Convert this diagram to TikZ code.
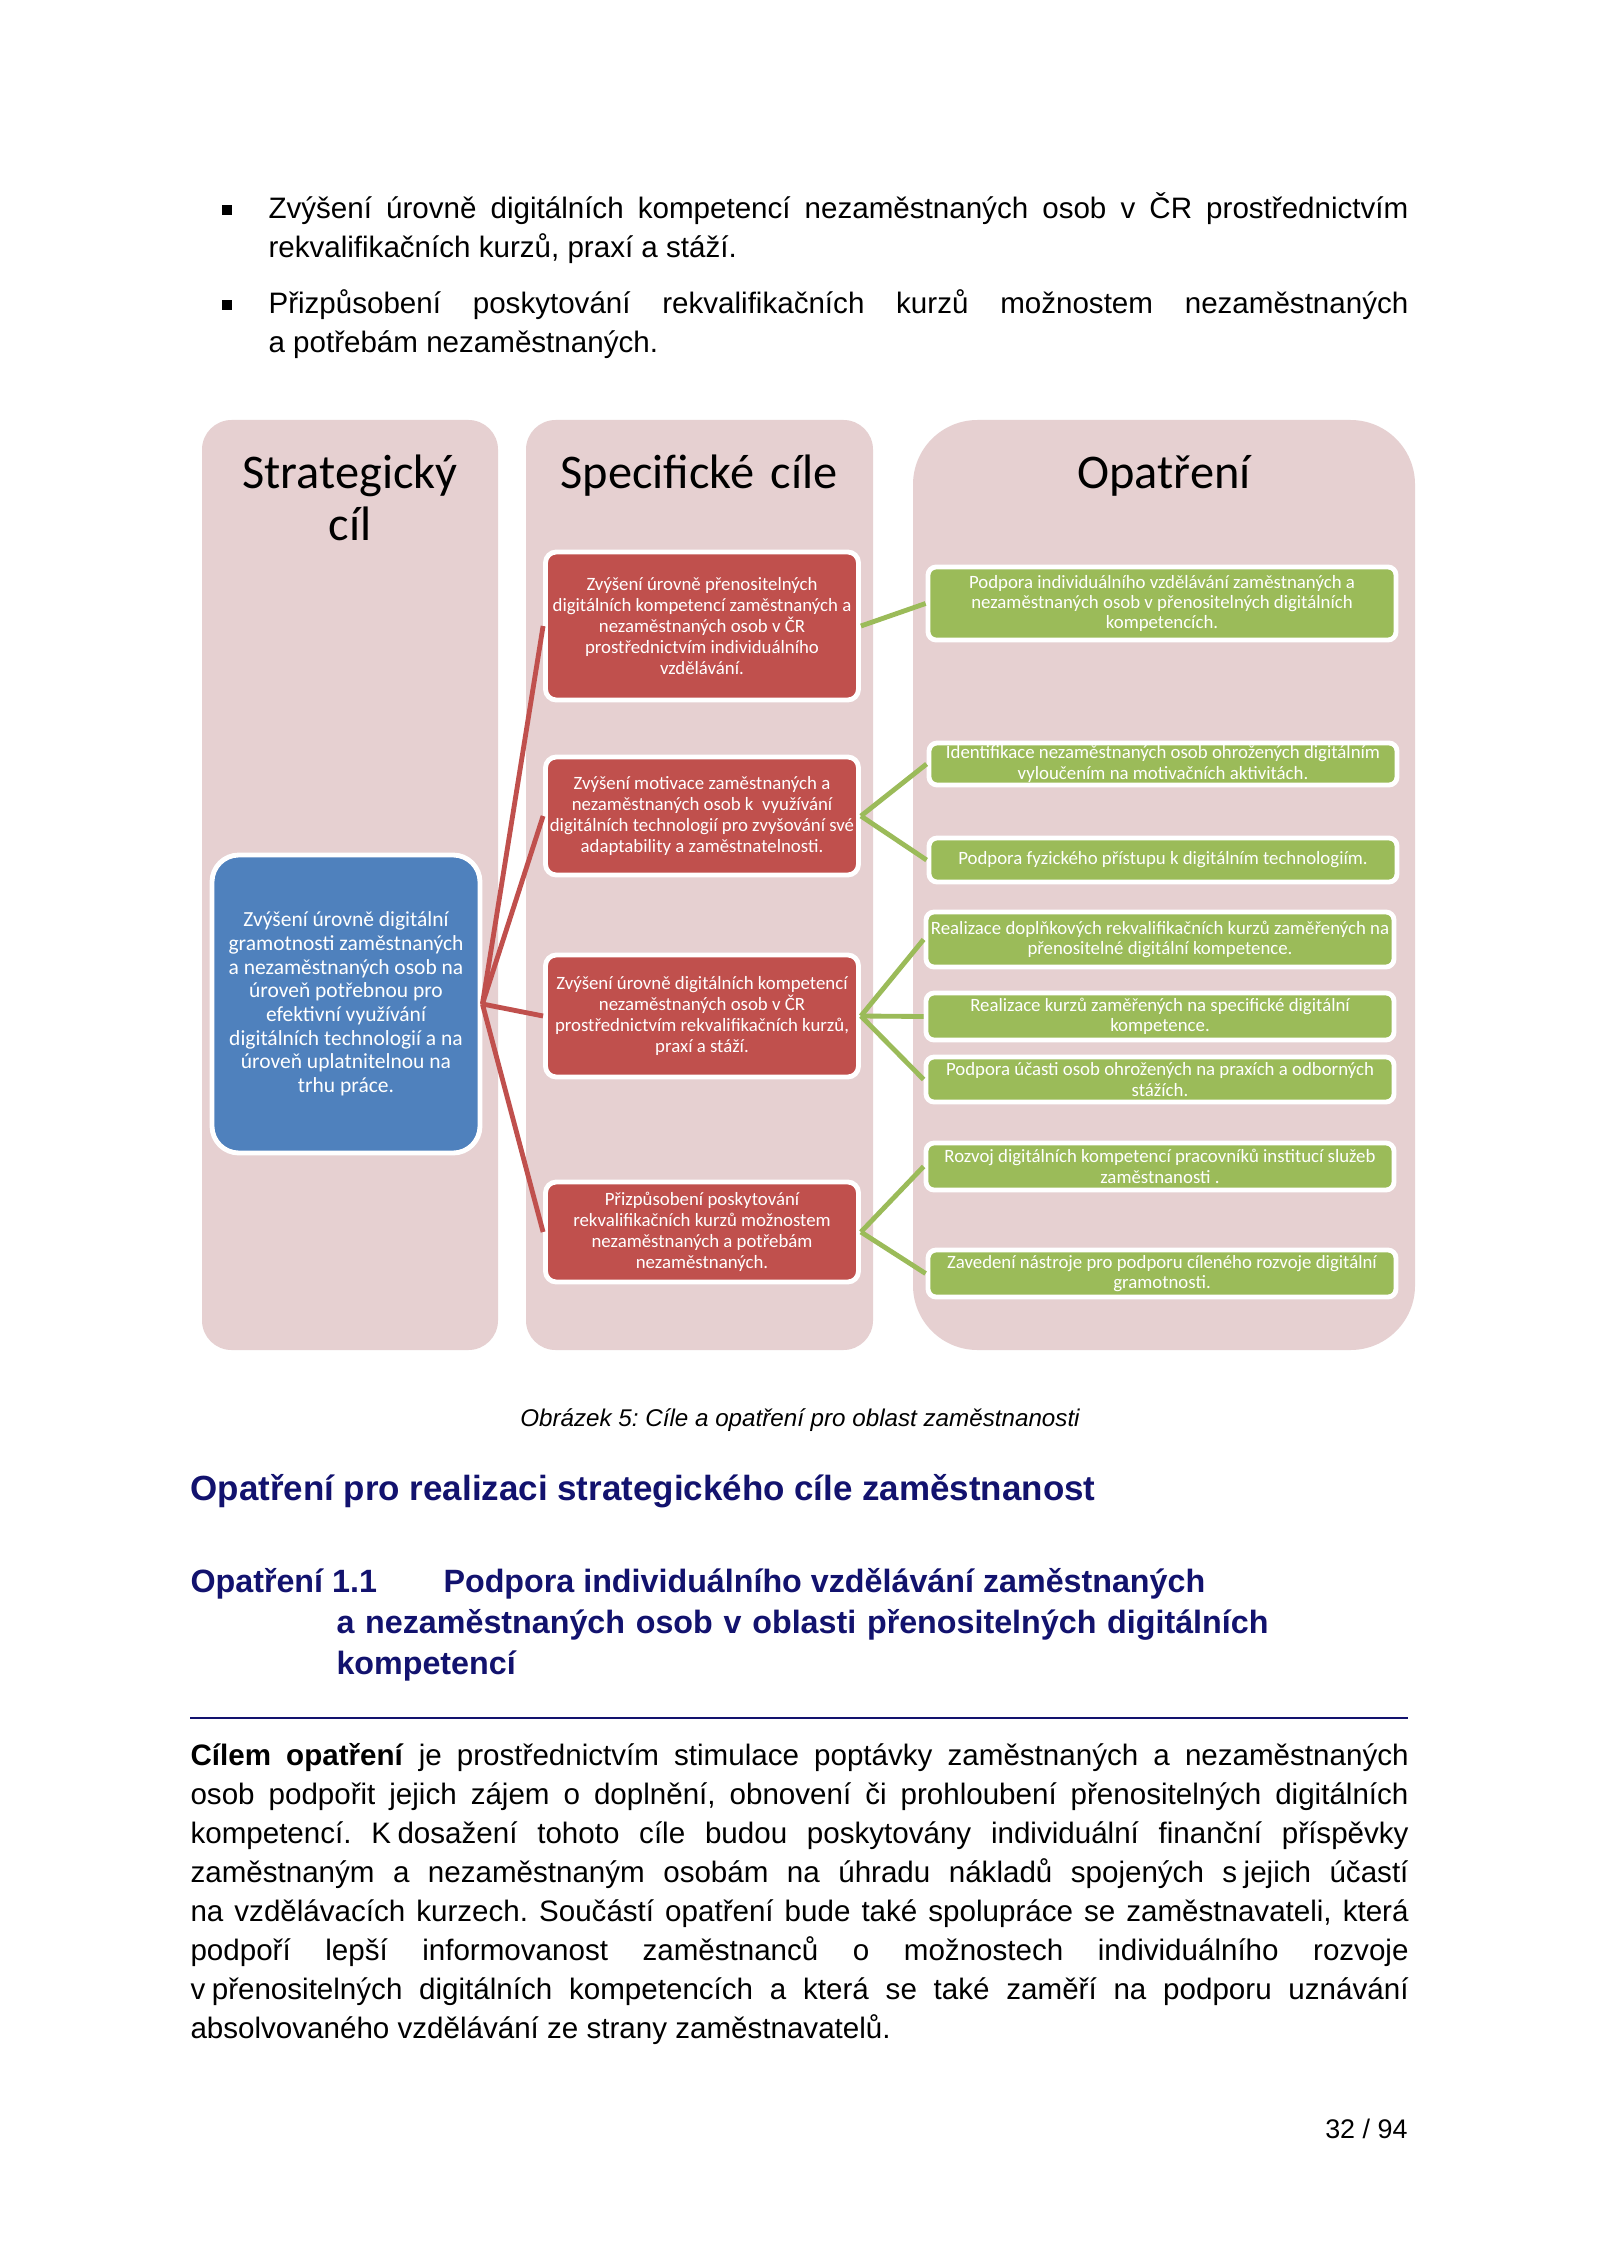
\documentclass[tikz,border=0pt]{standalone}
\usepackage{fontspec}
\setmainfont{Liberation Sans}
\newfontfamily\calib{Carlito}
\usetikzlibrary{positioning}
\frenchspacing

\definecolor{colpink}{RGB}{230,208,209}
\definecolor{stratblue}{RGB}{79,129,189}
\definecolor{goalred}{RGB}{192,80,77}
\definecolor{actgreen}{RGB}{155,187,89}
\definecolor{headnavy}{RGB}{18,18,110}
\newcommand\pxu{0.37205pt}

\begin{document}
\begin{tikzpicture}[
  x=0.37205pt, y=-0.37205pt,
  every node/.style={inner sep=0pt},
  bodytext/.style={anchor=base west, text width=#1, align=justify,
    font=\fontsize{11}{14.51}\selectfont},
  headtext/.style={anchor=base west, text=headnavy,
    font=\bfseries\fontsize{12}{15.6}\selectfont},
  colbg/.style={fill=colpink, rounded corners=11pt},
  coltitle/.style={anchor=base, text width=120pt, align=center,
    font=\calib\fontsize{18}{19.3}\selectfont},
  stratbox/.style={fill=stratblue, draw=white, line width=1.8pt,
    rounded corners=10pt, text=white, align=center,
    minimum width=268*\pxu, font=\calib\fontsize{8}{8.8}\selectfont},
  goalbox/.style={fill=goalred, draw=white, line width=1.8pt,
    rounded corners=4pt, text=white, align=center,
    minimum width=313*\pxu, font=\calib\fontsize{7}{7.8}\selectfont},
  actbox/.style={fill=actgreen, draw=white, line width=1.8pt,
    rounded corners=3pt, text=white, align=center,
    minimum width=468*\pxu, font=\calib\fontsize{7}{7.6}\selectfont},
  goalline/.style={draw=goalred, line width=1.8pt},
  actline/.style={draw=actgreen, line width=1.8pt}
]
\useasboundingbox (0,0) rectangle (1600,2262);
\fill[white] (0,0) rectangle (1600,2262);

% odrážky nad obrázkem
\fill (222,205) rectangle (232,215);
\node[bodytext=424.1pt] (bul1) at (268,219)
  {Zvýšení úrovně digitálních kompetencí nezaměstnaných osob v ČR prostřednictvím\linebreak
   rekvalifikačních kurzů, praxí a stáží.};
\fill (222,300) rectangle (232,310);
\node[bodytext=424.1pt] (bul2) at (268,314)
  {Přizpůsobení poskytování rekvalifikačních kurzů možnostem nezaměstnaných\linebreak
   a potřebám nezaměstnaných.};

% sloupce
\fill[colbg] (202,420) rectangle (498,1350);
\fill[colbg] (526,420) rectangle (873,1350);
\fill[colbg, rounded corners=24pt] (913,420) rectangle (1415,1350);

\node[coltitle] (tstrat) at (350,489) {Strategický\\cíl};
\node[coltitle] (tgoal) at (699,489) {Specifické cíle};
\node[coltitle] (tact) at (1164,489) {Opatření};

% strategický cíl
\node[stratbox, minimum height=298*\pxu] (strat) at (346,1004)
  {Zvýšení úrovně digitální\\gramotnosti zaměstnaných\\a nezaměstnaných osob na\\úroveň potřebnou pro\\efektivní využívání\\digitálních technologií a na\\úroveň uplatnitelnou na\\trhu práce.};

% specifické cíle
\node[goalbox, minimum height=148*\pxu] (g1) at (702,626)
  {Zvýšení úrovně přenositelných\\digitálních kompetencí zaměstnaných a\\nezaměstnaných osob v ČR\\prostřednictvím individuálního\\vzdělávání.};
\node[goalbox, minimum height=118*\pxu] (g2) at (702,816)
  {Zvýšení motivace zaměstnaných a\\nezaměstnaných osob k\ \ využívání\\digitálních technologií pro zvyšování své\\adaptability a zaměstnatelnosti.};
\node[goalbox, minimum height=122*\pxu] (g3) at (702,1016)
  {Zvýšení úrovně digitálních kompetencí\\nezaměstnaných osob v ČR\\prostřednictvím rekvalifikačních kurzů,\\praxí a stáží.};
\node[goalbox, minimum height=100*\pxu] (g4) at (702,1232)
  {Přizpůsobení poskytování\\rekvalifikačních kurzů možnostem\\nezaměstnaných a potřebám\\nezaměstnaných.};

% opatření
\node[actbox, minimum height=73*\pxu] (a1) at (1162,603.5)
  {Podpora individuálního vzdělávání zaměstnaných a\\nezaměstnaných osob v přenositelných digitálních\\kompetencích.};
\node[actbox, minimum height=42*\pxu] (a2) at (1163,764)
  {Identifikace nezaměstnaných osob ohrožených digitálním\\vyloučením na motivačních aktivitách.};
\node[actbox, minimum height=44*\pxu] (a3) at (1163,860)
  {Podpora fyzického přístupu k digitálním technologiím.};
\node[actbox, minimum height=55*\pxu] (a4) at (1160,939.5)
  {Realizace doplňkových rekvalifikačních kurzů zaměřených na\\přenositelné digitální kompetence.};
\node[actbox, minimum height=47*\pxu] (a5) at (1160,1016.5)
  {Realizace kurzů zaměřených na specifické digitální\\kompetence.};
\node[actbox, minimum height=45*\pxu] (a6) at (1160,1079.5)
  {Podpora účasti osob ohrožených na praxích a odborných\\stážích.};
\node[actbox, minimum height=47*\pxu] (a7) at (1160,1166.5)
  {Rozvoj digitálních kompetencí pracovníků institucí služeb\\zaměstnanosti .};
\node[actbox, minimum height=47*\pxu] (a8) at (1162,1273.5)
  {Zavedení nástroje pro podporu cíleného rozvoje digitální\\gramotnosti.};

% spojnice
\foreach \g in {g1,g2,g3,g4}
  \draw[goalline] (strat.east) -- (\g.west);
\foreach \g/\a in {g1/a1,g2/a2,g2/a3,g3/a4,g3/a5,g3/a6,g4/a7,g4/a8}
  \draw[actline] (\g.east) -- (\a.west);

% popisek a text pod obrázkem
\node[anchor=base, font=\itshape\fontsize{9}{11}\selectfont] (capt) at (800,1426)
  {Obrázek 5: Cíle a opatření pro oblast zaměstnanosti};

\node[headtext, font=\bfseries\fontsize{13}{15.6}\selectfont] (head) at (190,1500)
  {Opatření pro realizaci strategického cíle zaměstnanost};
\node[headtext] (mnum) at (190,1592) {Opatření 1.1};
\node[headtext] (mname) at (443,1592) {Podpora individuálního vzdělávání zaměstnaných};
\node[headtext, text width=420pt, align=left] (mrest) at (336,1633)
  {a nezaměstnaných osob v oblasti přenositelných digitálních\\kompetencí};
\draw[headnavy, line width=0.75pt] (190,1718) -- (1408,1718);

\node[bodytext=453.2pt] (goaltext) at (190,1765)
  {\textbf{Cílem opatření} je prostřednictvím stimulace poptávky zaměstnaných a nezaměstnaných\linebreak
   osob podpořit jejich zájem o doplnění, obnovení či prohloubení přenositelných digitálních\linebreak
   kompetencí. K\kern.22em dosažení tohoto cíle budou poskytovány individuální finanční příspěvky\linebreak
   zaměstnaným a nezaměstnaným osobám na úhradu nákladů spojených s\kern.22em jejich účastí\linebreak
   na vzdělávacích kurzech. Součástí opatření bude také spolupráce se zaměstnavateli, která\linebreak
   podpoří lepší informovanost zaměstnanců o možnostech individuálního rozvoje\linebreak
   v\kern.22em přenositelných digitálních kompetencích a která se také zaměří na podporu uznávání\linebreak
   absolvovaného vzdělávání ze strany zaměstnavatelů.};

\node[anchor=base east, font=\fontsize{10}{12}\selectfont] (pageno) at (1408,2138) {32 / 94};
\end{tikzpicture}
\end{document}
